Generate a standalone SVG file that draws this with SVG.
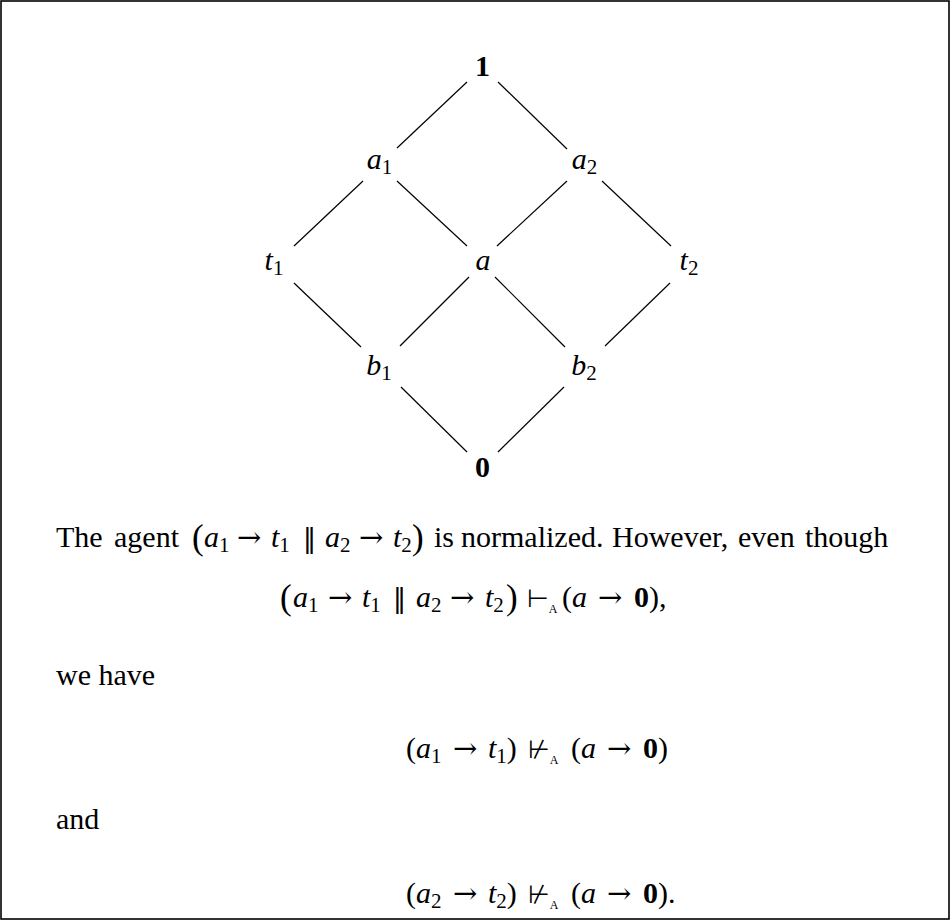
<svg xmlns="http://www.w3.org/2000/svg" width="951" height="922" viewBox="0 0 951 922">
<style>
.t{font-family:"Liberation Serif","DejaVu Serif",serif;font-size:30px;fill:#000}
.i{font-style:italic}
.b{font-weight:bold}
.s{font-size:21px;font-style:normal}
.ss{font-size:12px;font-style:normal;font-family:"Liberation Serif",serif}
.big{font-size:35px}
.ar{font-family:"DejaVu Serif","DejaVu Sans",serif;font-size:29px;font-style:normal}
.rel{font-family:"DejaVu Sans",sans-serif;font-size:25px;font-style:normal}
.par{font-family:"DejaVu Sans",sans-serif;font-size:26px;font-style:normal}
.e line{stroke:#000;stroke-width:1.2}
</style>
<rect x="1" y="1" width="948" height="918" fill="#fff" stroke="#000" stroke-width="1.6"/>
<g class="e" id="edges">
<line x1="467" y1="82" x2="397" y2="148"/>
<line x1="498" y1="82" x2="567" y2="149"/>
<line x1="363" y1="181" x2="294" y2="246"/>
<line x1="397" y1="181" x2="467" y2="246"/>
<line x1="567" y1="181" x2="497" y2="246"/>
<line x1="602" y1="181" x2="671" y2="246"/>
<line x1="294" y1="283" x2="361" y2="347"/>
<line x1="469" y1="277" x2="400" y2="346"/>
<line x1="495" y1="277" x2="565" y2="347"/>
<line x1="670" y1="283" x2="605" y2="346"/>
<line x1="401" y1="387" x2="467" y2="452"/>
<line x1="564" y1="387" x2="498" y2="452"/>
</g>
<g id="n1"><text class="t b" x="482.5" y="76" text-anchor="middle">1</text></g>
<g id="na1"><text class="t i" x="379.5" y="169" text-anchor="middle">a<tspan class="s" dy="5">1</tspan></text></g>
<g id="na2"><text class="t i" x="584.5" y="169" text-anchor="middle">a<tspan class="s" dy="5">2</tspan></text></g>
<g id="nt1"><text class="t i" x="274" y="270" text-anchor="middle">t<tspan class="s" dy="5">1</tspan></text></g>
<g id="na"><text class="t i" x="483" y="270" text-anchor="middle">a</text></g>
<g id="nt2"><text class="t i" x="689" y="270" text-anchor="middle">t<tspan class="s" dy="5">2</tspan></text></g>
<g id="nb1"><text class="t i" x="379" y="375" text-anchor="middle">b<tspan class="s" dy="5">1</tspan></text></g>
<g id="nb2"><text class="t i" x="584" y="375" text-anchor="middle">b<tspan class="s" dy="5">2</tspan></text></g>
<g id="n0"><text class="t b" x="482.5" y="477" text-anchor="middle">0</text></g>

<g id="text">
<text class="t" y="547"><tspan x="56">The</tspan><tspan x="114">agent</tspan><tspan x="192" class="big" dy="2">(</tspan><tspan x="204" class="i" dy="-2">a</tspan><tspan class="s" dy="5">1</tspan><tspan x="237" class="ar" dy="-5">→</tspan><tspan x="271" class="i">t</tspan><tspan class="s" dy="5">1</tspan><tspan x="303" class="par" dy="-5">‖</tspan><tspan x="325" class="i">a</tspan><tspan class="s" dy="5">2</tspan><tspan x="359" class="ar" dy="-5">→</tspan><tspan x="393" class="i">t</tspan><tspan class="s" dy="5">2</tspan><tspan x="412" class="big" dy="-3">)</tspan><tspan x="434" dy="-2">is</tspan><tspan x="461">normalized.</tspan><tspan x="612">However,</tspan><tspan x="738">even</tspan><tspan x="805">though</tspan></text>

<text class="t" y="607"><tspan x="280" class="big" dy="2">(</tspan><tspan x="293" class="i" dy="-2">a</tspan><tspan class="s" dy="5">1</tspan><tspan x="328" class="ar" dy="-5">→</tspan><tspan x="362" class="i">t</tspan><tspan class="s" dy="5">1</tspan><tspan x="393" class="par" dy="-5">‖</tspan><tspan x="416" class="i">a</tspan><tspan class="s" dy="5">2</tspan><tspan x="450" class="ar" dy="-5">→</tspan><tspan x="485" class="i">t</tspan><tspan class="s" dy="5">2</tspan><tspan x="506" class="big" dy="-3">)</tspan><tspan x="527" class="rel" dy="-2">⊢</tspan><tspan class="ss" dy="6">A</tspan><tspan x="562" dy="-6">(</tspan><tspan class="i">a</tspan><tspan x="598" class="ar">→</tspan><tspan x="634" class="b">0</tspan><tspan>),</tspan></text>

<text class="t" x="56" y="685">we have</text>

<text class="t" y="758"><tspan x="406">(</tspan><tspan class="i">a</tspan><tspan class="s" dy="5">1</tspan><tspan x="453" class="ar" dy="-5">→</tspan><tspan x="488" class="i">t</tspan><tspan class="s" dy="5">1</tspan><tspan dy="-5">)</tspan><tspan x="528" class="rel">⊬</tspan><tspan class="ss" dy="6">A</tspan><tspan x="571" dy="-6">(</tspan><tspan class="i">a</tspan><tspan x="607" class="ar">→</tspan><tspan x="643" class="b">0</tspan><tspan>)</tspan></text>

<text class="t" x="56" y="829">and</text>

<text class="t" y="903"><tspan x="406">(</tspan><tspan class="i">a</tspan><tspan class="s" dy="5">2</tspan><tspan x="453" class="ar" dy="-5">→</tspan><tspan x="488" class="i">t</tspan><tspan class="s" dy="5">2</tspan><tspan dy="-5">)</tspan><tspan x="528" class="rel">⊬</tspan><tspan class="ss" dy="6">A</tspan><tspan x="571" dy="-6">(</tspan><tspan class="i">a</tspan><tspan x="607" class="ar">→</tspan><tspan x="643" class="b">0</tspan><tspan>).</tspan></text>
</g>
</svg>
